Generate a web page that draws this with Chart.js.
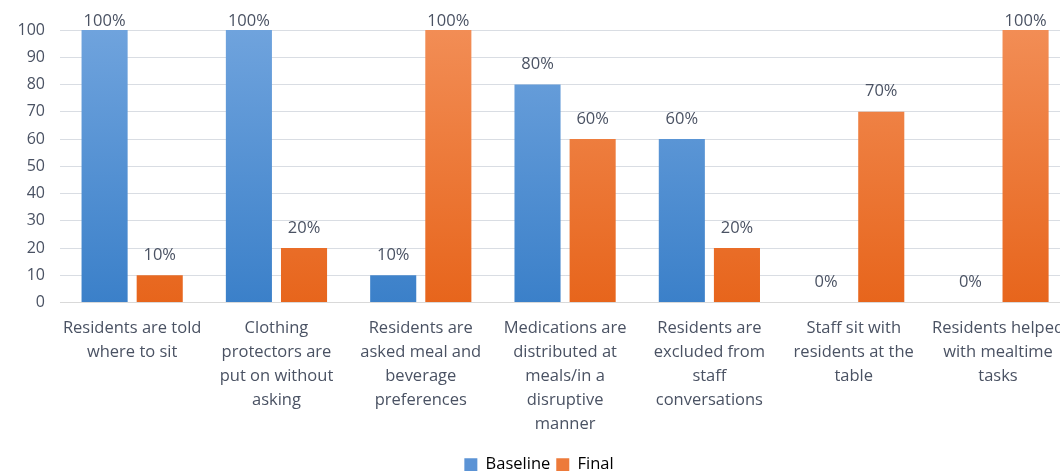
<!DOCTYPE html>
<html>
<head>
<meta charset="utf-8">
<script src="https://cdn.jsdelivr.net/npm/chart.js@4"></script>
<style>
  html, body { margin: 0; padding: 0; background: #fff; overflow: hidden; }
  #wrap { width: 1078px; height: 471px; position: relative; }
</style>
</head>
<body>
<div id="wrap"><canvas id="chart"></canvas></div>
<script>
const categories = [
  ["Residents are told", "where to sit"],
  ["Clothing", "protectors are", "put on without", "asking"],
  ["Residents are", "asked meal and", "beverage", "preferences"],
  ["Medications are", "distributed at", "meals/in a", "disruptive", "manner"],
  ["Residents are", "excluded from", "staff", "conversations"],
  ["Staff sit with", "residents at the", "table"],
  ["Residents helped", "with mealtime", "tasks"]
];
const baseline = [100, 100, 10, 80, 60, 0, 0];
const final = [10, 20, 100, 60, 20, 70, 100];
const yTicks = [0, 10, 20, 30, 40, 50, 60, 70, 80, 90, 100];

const FONT = "'Open Sans', sans-serif";
const TEXT = "#4a5263";

function grad(ctx, top, bottom) {
  const chart = ctx.chart;
  const area = chart.chartArea;
  if (!area) return bottom;
  const g = chart.ctx.createLinearGradient(0, area.top, 0, area.bottom);
  g.addColorStop(0, top);
  g.addColorStop(1, bottom);
  return g;
}

const valueLabels = {
  id: "valueLabels",
  afterDatasetsDraw(chart) {
    const c = chart.ctx;
    c.save();
    c.font = "16.5px " + FONT;
    c.fillStyle = TEXT;
    c.textAlign = "center";
    c.textBaseline = "middle";
    chart.data.datasets.forEach((ds, i) => {
      chart.getDatasetMeta(i).data.forEach((bar, j) => {
        const y = Math.max(bar.y - 20, 21);
        c.fillText(ds.data[j] + "%", bar.x, y);
      });
    });
    c.restore();
  }
};

new Chart(document.getElementById("chart"), {
  type: "bar",
  data: {
    labels: categories,
    datasets: [
      {
        label: "Baseline",
        data: baseline,
        backgroundColor: (ctx) => grad(ctx, "#6fa3dd", "#3b80c9"),
        categoryPercentage: 0.764,
        barPercentage: 0.836
      },
      {
        label: "Final",
        data: final,
        backgroundColor: (ctx) => grad(ctx, "#f28d55", "#e7651c"),
        categoryPercentage: 0.764,
        barPercentage: 0.836
      }
    ]
  },
  options: {
    responsive: true,
    maintainAspectRatio: false,
    animation: false,
    layout: { padding: { top: 30, left: 0, right: 0, bottom: -12 } },
    plugins: {
      legend: {
        position: "bottom",
        labels: {
          font: { family: FONT, size: 16.5 },
          color: TEXT,
          boxWidth: 13,
          boxHeight: 13,
          padding: 6,
          generateLabels(chart) {
            return chart.data.datasets.map((ds, i) => ({
              text: ds.label,
              fillStyle: i === 0 ? "#5b93d5" : "#ed7a3a",
              strokeStyle: "transparent",
              lineWidth: 0,
              datasetIndex: i
            }));
          }
        }
      },
      tooltip: { enabled: false }
    },
    scales: {
      x: {
        afterFit(scale) { scale.height = 148; },
        grid: { display: false, drawTicks: false },
        border: { color: "#d9d9d9", width: 1 },
        ticks: {
          font: { family: FONT, size: 16.5, lineHeight: 1.45 },
          color: TEXT,
          maxRotation: 0,
          autoSkip: false,
          padding: 14
        }
      },
      y: {
        min: 0,
        max: 100,
        afterFit(scale) { scale.width = 60; },
        afterBuildTicks(scale) { scale.ticks = yTicks.map(v => ({ value: v })); },
        grid: { color: "#d9dde3", drawTicks: false },
        border: { display: false },
        ticks: {
          font: { family: FONT, size: 16 },
          color: TEXT,
          padding: 15
        }
      }
    }
  },
  plugins: [valueLabels]
});
</script>
</body>
</html>
